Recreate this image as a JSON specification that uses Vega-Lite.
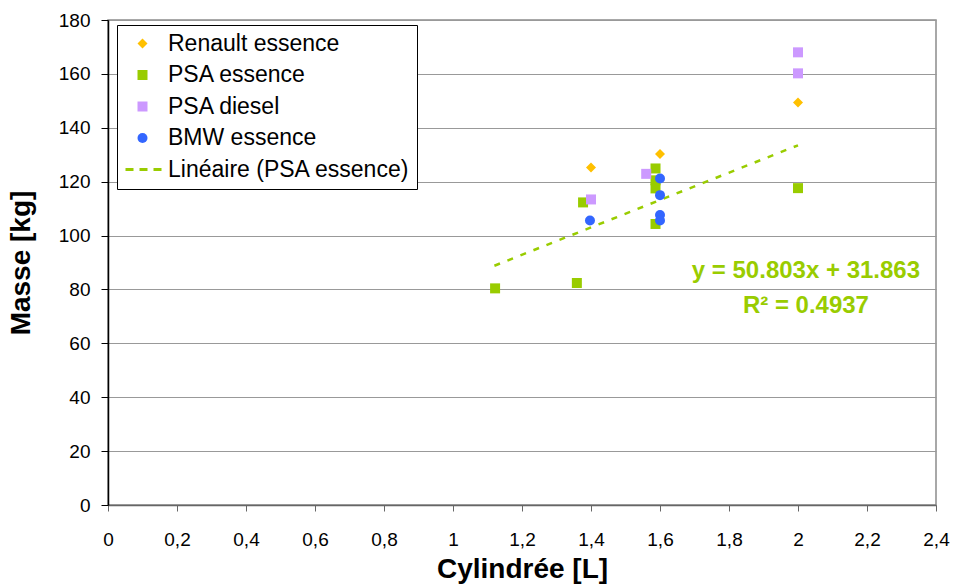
{
  "$schema": "https://vega.github.io/schema/vega-lite/v6.json",
  "width": 828,
  "height": 485,
  "autosize": "none",
  "padding": {"left": 108, "top": 20, "right": 18, "bottom": 83},
  "background": "white",
  "config": {
    "font": "Liberation Sans",
    "view": {"stroke": "#8c8c8c", "strokeWidth": 1.5}
  },
  "datasets": {
    "points": [
      {"serie": "Renault essence", "cyl": 1.4, "masse": 125.3},
      {"serie": "Renault essence", "cyl": 1.6, "masse": 130.3},
      {"serie": "Renault essence", "cyl": 2.0, "masse": 149.4},
      {"serie": "PSA essence", "cyl": 1.122, "masse": 80.4},
      {"serie": "PSA essence", "cyl": 1.359, "masse": 82.4},
      {"serie": "PSA essence", "cyl": 1.377, "masse": 112.3},
      {"serie": "PSA essence", "cyl": 1.587, "masse": 124.9},
      {"serie": "PSA essence", "cyl": 1.587, "masse": 120.5},
      {"serie": "PSA essence", "cyl": 1.587, "masse": 117.5},
      {"serie": "PSA essence", "cyl": 1.587, "masse": 104.3},
      {"serie": "PSA essence", "cyl": 2.0, "masse": 117.6},
      {"serie": "PSA diesel", "cyl": 1.4, "masse": 113.4},
      {"serie": "PSA diesel", "cyl": 1.56, "masse": 122.9},
      {"serie": "PSA diesel", "cyl": 2.0, "masse": 160.2},
      {"serie": "PSA diesel", "cyl": 2.0, "masse": 168.0},
      {"serie": "BMW essence", "cyl": 1.397, "masse": 105.6},
      {"serie": "BMW essence", "cyl": 1.6, "masse": 121.2},
      {"serie": "BMW essence", "cyl": 1.6, "masse": 115.0},
      {"serie": "BMW essence", "cyl": 1.6, "masse": 107.6},
      {"serie": "BMW essence", "cyl": 1.6, "masse": 105.6}
    ],
    "trend": [
      {"cyl": 1.12, "masse": 88.8},
      {"cyl": 2.0, "masse": 133.5}
    ],
    "annot": [
      {"cyl": 2.023, "masse": 86.9, "label": "y = 50.803x + 31.863"},
      {"cyl": 2.023, "masse": 74.0, "label": "R² = 0.4937"}
    ]
  },
  "layer": [
    {
      "data": {"name": "trend"},
      "mark": {"type": "line", "color": "#99CC00", "strokeWidth": 2.5, "strokeDash": [6, 8]},
      "encoding": {
        "x": {"field": "cyl", "type": "quantitative"},
        "y": {"field": "masse", "type": "quantitative"}
      }
    },
    {
      "data": {"name": "points"},
      "mark": {"type": "point", "filled": true, "opacity": 1, "size": 100, "strokeWidth": 0},
      "encoding": {
        "x": {
          "field": "cyl", "type": "quantitative",
          "scale": {"domain": [0, 2.4], "nice": false, "zero": false},
          "axis": {
            "title": "Cylindrée [L]",
            "values": [0, 0.2, 0.4, 0.6, 0.8, 1, 1.2, 1.4, 1.6, 1.8, 2, 2.2, 2.4],
            "labelExpr": "replace(format(datum.value, '~g'), '.', ',')",
            "grid": false,
            "domainColor": "#666666", "domainWidth": 1.5,
            "tickColor": "#666666", "tickSize": 6, "tickWidth": 1,
            "labelFontSize": 19, "labelColor": "#000000", "labelPadding": 19,
            "labelFlush": false,
            "titleFontSize": 28, "titleFontWeight": "bold", "titleColor": "#000000", "titlePadding": 6
          }
        },
        "y": {
          "field": "masse", "type": "quantitative",
          "scale": {"domain": [0, 180], "nice": false},
          "axis": {
            "title": "Masse [kg]",
            "values": [0, 20, 40, 60, 80, 100, 120, 140, 160, 180],
            "grid": true, "gridColor": "#999999", "gridWidth": 1,
            "domainColor": "#000000", "domainWidth": 1.5,
            "tickColor": "#000000", "tickSize": 7,
            "labelFontSize": 19, "labelColor": "#000000", "labelPadding": 11,
            "labelFlush": false,
            "titleFontSize": 28, "titleFontWeight": "bold", "titleColor": "#000000", "titlePadding": 23
          }
        },
        "color": {
          "field": "serie", "type": "nominal",
          "scale": {
            "domain": ["Renault essence", "PSA essence", "PSA diesel", "BMW essence", "Linéaire (PSA essence)"],
            "range": ["#FFC000", "#99CC00", "#CC99FF", "#3366FF", "#99CC00"]
          },
          "legend": {
            "title": null,
            "orient": "none", "legendX": 9, "legendY": 5,
            "fillColor": "white", "strokeColor": "#000000",
            "padding": 7, "symbolOffset": 7, "labelOffset": 14,
            "labelFontSize": 23, "labelColor": "#000000", "rowPadding": 7.5,
            "symbolSize": 100, "labelLimit": 400
          }
        },
        "shape": {
          "field": "serie", "type": "nominal",
          "scale": {
            "domain": ["Renault essence", "PSA essence", "PSA diesel", "BMW essence", "Linéaire (PSA essence)"],
            "range": ["diamond", "square", "square", "circle", "M-3.4,-0.3H-1.8V0.3H-3.4Z M-0.6,-0.3H1V0.3H-0.6Z M2.2,-0.3H3.8V0.3H2.2Z"]
          },
          "legend": {
            "title": null,
            "orient": "none", "legendX": 9, "legendY": 5,
            "fillColor": "white", "strokeColor": "#000000",
            "padding": 7, "symbolOffset": 7, "labelOffset": 14,
            "labelFontSize": 23, "labelColor": "#000000", "rowPadding": 7.5,
            "symbolSize": 100, "labelLimit": 400
          }
        }
      }
    },
    {
      "data": {"name": "annot"},
      "mark": {"type": "text", "color": "#99CC00", "fontWeight": "bold", "fontSize": 24, "align": "center", "baseline": "middle"},
      "encoding": {
        "x": {"field": "cyl", "type": "quantitative"},
        "y": {"field": "masse", "type": "quantitative"},
        "text": {"field": "label"}
      }
    }
  ]
}
